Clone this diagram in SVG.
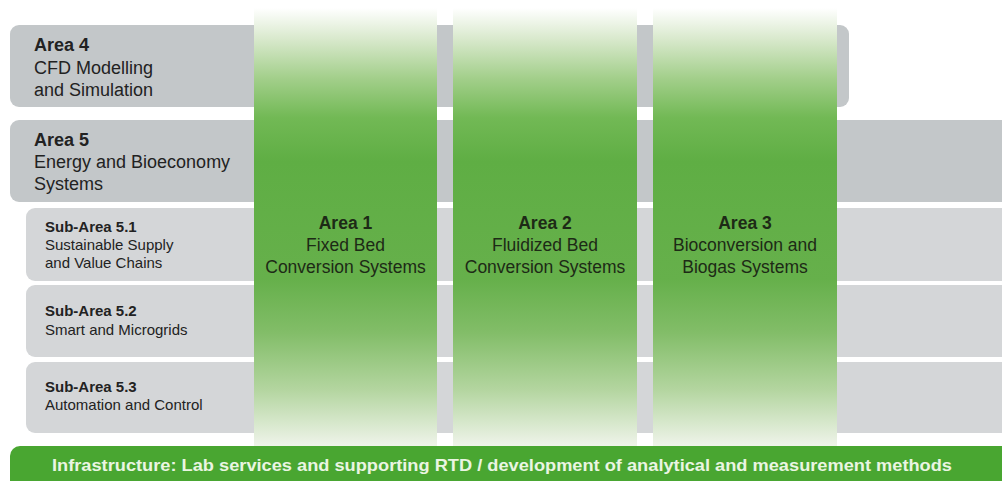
<svg xmlns="http://www.w3.org/2000/svg" width="1002" height="481" viewBox="0 0 1002 481">
<defs>
<linearGradient id="col" gradientUnits="userSpaceOnUse" x1="0" y1="8" x2="0" y2="446">
<stop offset="0" stop-color="#ffffff"/>
<stop offset="0.07" stop-color="#d9e9cd"/>
<stop offset="0.16" stop-color="#a3cf8b"/>
<stop offset="0.25" stop-color="#72b955"/>
<stop offset="0.35" stop-color="#5fae44"/>
<stop offset="0.62" stop-color="#66b04b"/>
<stop offset="0.74" stop-color="#82bd68"/>
<stop offset="0.87" stop-color="#b3d59f"/>
<stop offset="1" stop-color="#eff4ea"/>
</linearGradient>
<style>
.band{fill:#c3c7c9}
.sub{fill:#d4d6d8}
.t{font-family:"Liberation Sans",Arial,sans-serif;fill:#222}
.big{font-size:18px}
.small{font-size:15px}
.b{font-weight:bold}
.ct{font-family:"Liberation Sans",Arial,sans-serif;font-size:17.5px;fill:#1d2a16;text-anchor:middle}
</style>
</defs>
<rect width="1002" height="481" fill="#ffffff"/>
<g id="area4">
<rect class="band" x="10" y="25" width="839" height="82" rx="9"/>
<text class="t big b" x="34" y="51">Area 4</text>
<text class="t big" x="34" y="74">CFD Modelling</text>
<text class="t big" x="34" y="96">and Simulation</text>
</g>
<g id="area5">
<path class="band" d="M19 120H1002V202H19a9 9 0 0 1-9-9V129a9 9 0 0 1 9-9z"/>
<text class="t big b" x="34" y="146">Area 5</text>
<text class="t big" x="34" y="168">Energy and Bioeconomy</text>
<text class="t big" x="34" y="190">Systems</text>
</g>
<g id="sub51">
<path class="sub" d="M35 208H1002V281H35a9 9 0 0 1-9-9V217a9 9 0 0 1 9-9z"/>
<text class="t small b" x="45" y="232">Sub-Area 5.1</text>
<text class="t small" x="45" y="250">Sustainable Supply</text>
<text class="t small" x="45" y="268">and Value Chains</text>
</g>
<g id="sub52">
<path class="sub" d="M35 285H1002V357H35a9 9 0 0 1-9-9V294a9 9 0 0 1 9-9z"/>
<text class="t small b" x="45" y="316">Sub-Area 5.2</text>
<text class="t small" x="45" y="335">Smart and Microgrids</text>
</g>
<g id="sub53">
<path class="sub" d="M35 362H1002V433H35a9 9 0 0 1-9-9V371a9 9 0 0 1 9-9z"/>
<text class="t small b" x="45" y="392">Sub-Area 5.3</text>
<text class="t small" x="45" y="410">Automation and Control</text>
</g>
<g id="area1">
<rect x="254" y="8" width="183" height="438" fill="url(#col)"/>
<text class="ct b" x="345.5" y="229">Area 1</text>
<text class="ct" x="345.5" y="251">Fixed Bed</text>
<text class="ct" x="345.5" y="273">Conversion Systems</text>
</g>
<g id="area2">
<rect x="453" y="8" width="184" height="438" fill="url(#col)"/>
<text class="ct b" x="545" y="229">Area 2</text>
<text class="ct" x="545" y="251">Fluidized Bed</text>
<text class="ct" x="545" y="273">Conversion Systems</text>
</g>
<g id="area3">
<rect x="653" y="8" width="184" height="438" fill="url(#col)"/>
<text class="ct b" x="745" y="229">Area 3</text>
<text class="ct" x="745" y="251">Bioconversion and</text>
<text class="ct" x="745" y="273">Biogas Systems</text>
</g>
<g id="infrastructure">
<path d="M20 446H1002V481H10V456a10 10 0 0 1 10-10z" fill="#49a631"/>
<text x="502" y="471" text-anchor="middle" textLength="900" lengthAdjust="spacingAndGlyphs" font-family="Liberation Sans,Arial,sans-serif" font-size="16.5" font-weight="bold" fill="#eaf5e2">Infrastructure: Lab services and supporting RTD / development of analytical and measurement methods</text>
</g>
<g id="connectors"/>
</svg>
